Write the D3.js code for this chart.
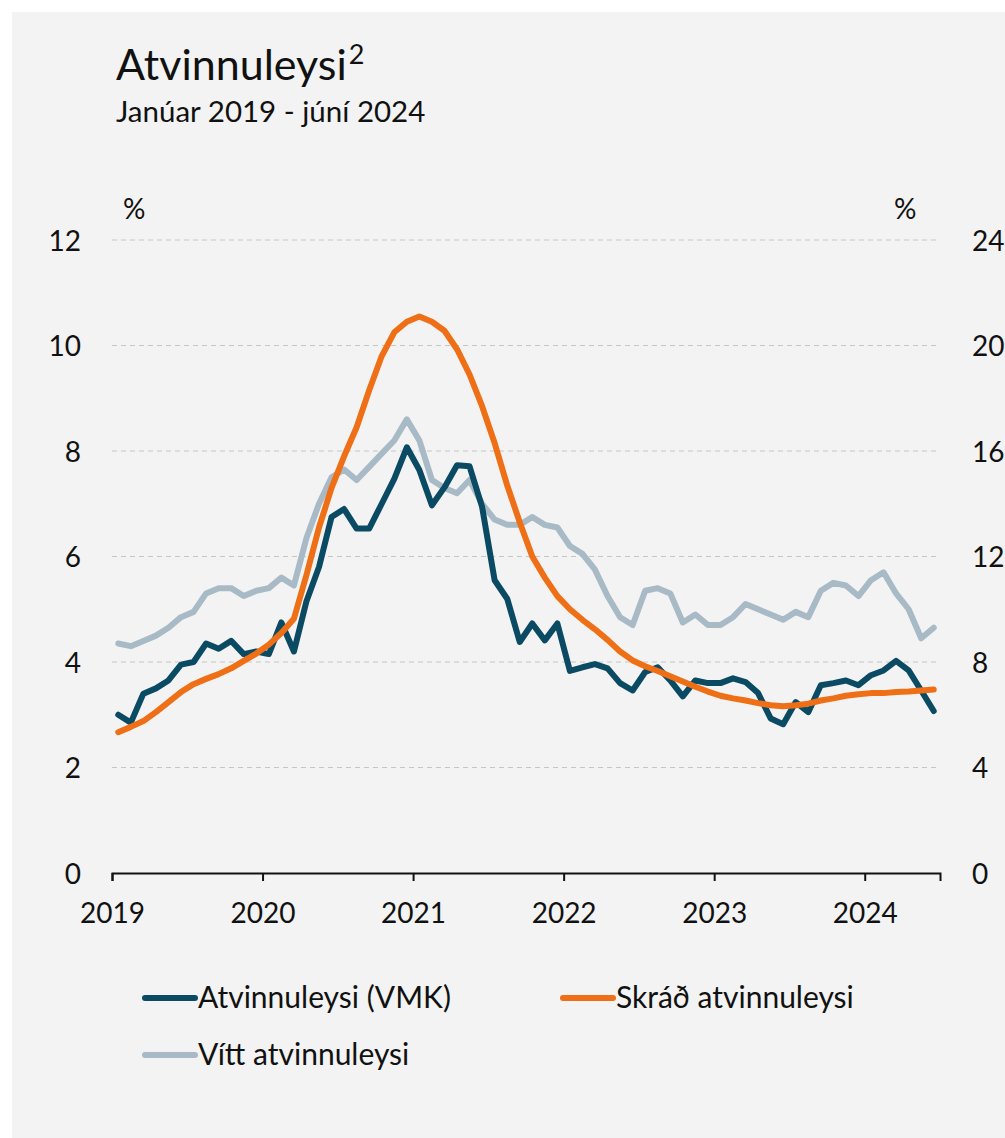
<!DOCTYPE html>
<html>
<head>
<meta charset="utf-8">
<script src="https://cdn.jsdelivr.net/npm/d3@7"></script>
<style>
  body { margin: 0; background: #fff; }
  text { font-family: Lato, "Open Sans", sans-serif; fill: #111; }
</style>
</head>
<body>
<script>
// monthly values, jan 2019 - jun 2024
var years = ['2019', '2020', '2021', '2022', '2023', '2024'];
var leftTicks = [0, 2, 4, 6, 8, 10, 12];
var rightTicks = [0, 4, 8, 12, 16, 20, 24];

var vmk = [3.0, 2.85, 3.4, 3.5, 3.65, 3.95, 4.0, 4.35, 4.25, 4.4, 4.15, 4.2,
  4.15, 4.75, 4.2, 5.15, 5.8, 6.75, 6.9, 6.53, 6.53, 7.0, 7.47, 8.07,
  7.64, 6.97, 7.31, 7.73, 7.71, 6.94, 5.55, 5.2, 4.38, 4.73, 4.41, 4.73,
  3.83, 3.9, 3.96, 3.88, 3.6, 3.46, 3.81, 3.9, 3.65, 3.35, 3.65, 3.6,
  3.6, 3.69, 3.62, 3.41, 2.93, 2.82, 3.24, 3.05, 3.56, 3.6, 3.65, 3.56,
  3.75, 3.84, 4.02, 3.84, 3.46, 3.07];

var skrad = [2.67, 2.77, 2.88, 3.05, 3.24, 3.43, 3.58, 3.68, 3.77, 3.88, 4.02, 4.16,
  4.33, 4.55, 4.82, 5.65, 6.55, 7.3, 7.9, 8.45, 9.15, 9.8, 10.25, 10.45,
  10.55, 10.45, 10.28, 9.93, 9.45, 8.85, 8.15, 7.35, 6.65, 6.0, 5.6, 5.25,
  5.0, 4.8, 4.62, 4.42, 4.2, 4.03, 3.92, 3.83, 3.73, 3.63, 3.53, 3.44,
  3.36, 3.31, 3.27, 3.22, 3.18, 3.16, 3.18, 3.21, 3.27, 3.31, 3.36, 3.39,
  3.41, 3.41, 3.43, 3.44, 3.46, 3.48];

// right axis
var vitt = [8.7, 8.6, 8.8, 9.0, 9.3, 9.7, 9.9, 10.6, 10.8, 10.8, 10.5, 10.7,
  10.8, 11.2, 10.9, 12.7, 14.0, 15.0, 15.3, 14.9, 15.4, 15.9, 16.4, 17.2,
  16.4, 14.9, 14.6, 14.4, 14.9, 14.0, 13.4, 13.2, 13.2, 13.5, 13.2, 13.1,
  12.4, 12.1, 11.5, 10.5, 9.7, 9.4, 10.7, 10.8, 10.6, 9.5, 9.8, 9.4,
  9.4, 9.7, 10.2, 10.0, 9.8, 9.6, 9.9, 9.7, 10.7, 11.0, 10.9, 10.5,
  11.1, 11.4, 10.6, 10.0, 8.9, 9.3];

var W = 1005, H = 1138;
var svg = d3.select('body').append('svg').attr('width', W).attr('height', H);

svg.append('rect').attr('x', 12).attr('y', 12).attr('width', W - 12).attr('height', H - 12)
  .attr('fill', '#f3f3f3');

var x = d3.scaleLinear().domain([0, 66]).range([112, 940]);
var yL = d3.scaleLinear().domain([0, 12]).range([873, 240]);
var yR = d3.scaleLinear().domain([0, 24]).range([873, 240]);

// title
var title = svg.append('text').attr('x', 116).attr('y', 80).style('font-size', '43px');
title.append('tspan').text('Atvinnuleysi');
title.append('tspan').attr('dy', -16).attr('dx', 2).style('font-size', '27px').text('2');
svg.append('text').attr('x', 116).attr('y', 122).style('font-size', '29.5px').text('Janúar 2019 - júní 2024');

svg.append('text').attr('x', 123).attr('y', 219).style('font-size', '28px').text('%');
svg.append('text').attr('x', 894).attr('y', 219).style('font-size', '28px').text('%');

// gridlines
svg.append('g').selectAll('line').data(leftTicks.filter(function(d){ return d > 0; }))
  .enter().append('line')
  .attr('x1', x(0)).attr('x2', x(66))
  .attr('y1', function(d){ return yL(d); }).attr('y2', function(d){ return yL(d); })
  .attr('stroke', '#c6c6c6').attr('stroke-width', 1).attr('stroke-dasharray', '5,4');

// left axis
var gl = svg.append('g').attr('transform', 'translate(81,0)')
  .call(d3.axisLeft(yL).tickValues(leftTicks).tickSize(0).tickPadding(0));
gl.select('.domain').remove();
gl.selectAll('text').style('font-size', '28px').attr('dy', '0.36em');

// right axis
var gr = svg.append('g').attr('transform', 'translate(972,0)')
  .call(d3.axisRight(yR).tickValues(rightTicks).tickSize(0).tickPadding(0));
gr.select('.domain').remove();
gr.selectAll('text').style('font-size', '28px').attr('dy', '0.36em');

// x axis
var gx = svg.append('g').attr('transform', 'translate(0,' + yL(0) + ')')
  .call(d3.axisBottom(x).tickValues(d3.range(0, 61, 12))
    .tickFormat(function(d, i){ return years[i]; }).tickSize(8).tickPadding(22));
gx.select('.domain').attr('stroke', '#111').attr('stroke-width', 2);
gx.selectAll('.tick line').attr('stroke', '#111').attr('stroke-width', 2);
gx.selectAll('text').style('font-size', '28px');

function lineFor(scale) {
  return d3.line()
    .x(function(d, i){ return x(i + 0.5); })
    .y(function(d){ return scale(d); })
    .curve(d3.curveLinear);
}

var series = [
  { name: 'Vítt atvinnuleysi', data: vitt, scale: yR, color: '#a7bac6' },
  { name: 'Atvinnuleysi (VMK)', data: vmk, scale: yL, color: '#0b4a63' },
  { name: 'Skráð atvinnuleysi', data: skrad, scale: yL, color: '#ef6f16' }
];

svg.append('g').selectAll('path').data(series).enter().append('path')
  .attr('d', function(s){ return lineFor(s.scale)(s.data); })
  .attr('fill', 'none')
  .attr('stroke', function(s){ return s.color; })
  .attr('stroke-width', 6)
  .attr('stroke-linejoin', 'round')
  .attr('stroke-linecap', 'round');

// legend
var legendItems = [
  { s: series[1], x: 145, y: 998 },
  { s: series[2], x: 563, y: 998 },
  { s: series[0], x: 145, y: 1055 }
];
var lg = svg.append('g').selectAll('g').data(legendItems).enter().append('g')
  .attr('transform', function(d){ return 'translate(' + d.x + ',' + d.y + ')'; });
lg.append('line').attr('x1', 0).attr('x2', 50).attr('y1', 0).attr('y2', 0)
  .attr('stroke', function(d){ return d.s.color; }).attr('stroke-width', 6)
  .attr('stroke-linecap', 'round');
lg.append('text').attr('x', 53).attr('y', 10).style('font-size', '30px')
  .text(function(d){ return d.s.name; });
</script>
</body>
</html>
